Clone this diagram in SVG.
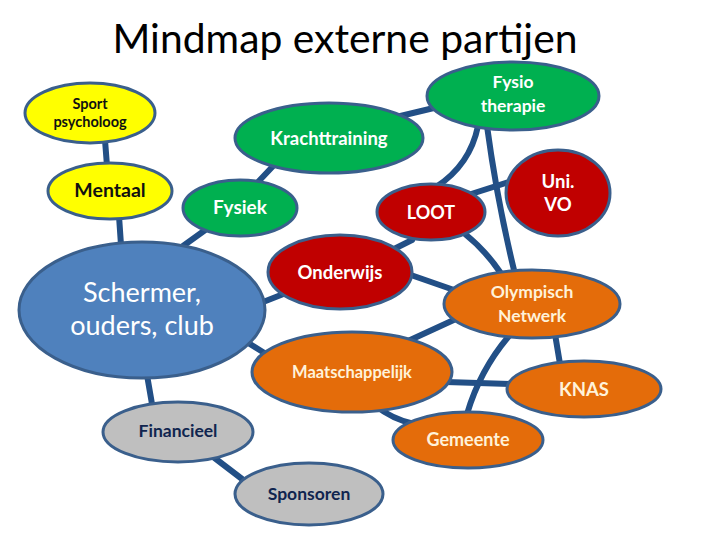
<svg xmlns="http://www.w3.org/2000/svg" width="720" height="540" viewBox="0 0 720 540">
<style>
.e{stroke:#3A5F8C;stroke-width:3}
.c{fill:none;stroke:#224F86;stroke-width:6;stroke-linecap:round}
text{font-family:Lato,"Open Sans","Liberation Sans",sans-serif;font-weight:bold;text-anchor:middle}
.y{fill:#FFFF00}.g{fill:#00B050}.r{fill:#C00000}.o{fill:#E46C0A}.b{fill:#4F81BD}.s{fill:#BFBFBF}
.tk{fill:#111111}.tw{fill:#FFFFFF}.tc{fill:#FFF2D9}.tn{fill:#10254F}
</style>
<rect width="720" height="540" fill="#FFFFFF"/>
<text x="345" y="53" font-size="40" style="font-weight:normal" textLength="465" lengthAdjust="spacingAndGlyphs" fill="#000000">Mindmap externe partijen</text>
<g id="connectors">
<path class="c" d="M105,140 L107,166"/>
<path class="c" d="M119,216 L121,245"/>
<path class="c" d="M258,182 L275,164"/>
<path class="c" d="M183,246 L208,228"/>
<path class="c" d="M392,118 L438,107"/>
<path class="c" d="M478,126 Q470,165 436,187"/>
<path class="c" d="M487,126 Q497,200 514,270"/>
<path class="c" d="M468,195 L512,181"/>
<path class="c" d="M392,250 L412,240"/>
<path class="c" d="M465,234 Q485,250 500,272"/>
<path class="c" d="M408,274 L454,290"/>
<path class="c" d="M258,304 L286,293"/>
<path class="c" d="M245,341 L266,354"/>
<path class="c" d="M408,341 L458,318"/>
<path class="c" d="M509,336 Q480,370 467,414"/>
<path class="c" d="M555,334 L560,364"/>
<path class="c" d="M446,382 L510,384"/>
<path class="c" d="M376,406 Q392,419 414,424"/>
<path class="c" d="M147,375 L152,404"/>
<path class="c" d="M212,456 L246,482"/>
</g>
<g id="sport-psycholoog"><ellipse class="e y" cx="90" cy="113" rx="65" ry="30"/><text class="tk" font-size="14.5" x="90" y="109">Sport</text><text class="tk" font-size="14.5" x="90" y="127">psycholoog</text></g>
<g id="mentaal"><ellipse class="e y" cx="110" cy="191" rx="62" ry="28"/><text class="tk" font-size="19.5" x="110" y="197">Mentaal</text></g>
<g id="krachttraining"><ellipse class="e g" cx="329" cy="138" rx="94" ry="35"/><text class="tw" font-size="18.5" x="329" y="145">Krachttraining</text></g>
<g id="fysiotherapie"><ellipse class="e g" cx="513" cy="96" rx="86" ry="34"/><text class="tw" font-size="17.5" x="513" y="88">Fysio</text><text class="tw" font-size="17.5" x="513" y="112">therapie</text></g>
<g id="fysiek"><ellipse class="e g" cx="240" cy="208" rx="57" ry="28"/><text class="tw" font-size="19" x="240" y="214">Fysiek</text></g>
<g id="uni-vo"><ellipse class="e r" cx="558" cy="193" rx="52" ry="43"/><text class="tw" font-size="18.5" x="558" y="188">Uni.</text><text class="tw" font-size="18.5" x="558" y="211">VO</text></g>
<g id="loot"><ellipse class="e r" cx="431" cy="212" rx="54" ry="28"/><text class="tw" font-size="18" x="431" y="219">LOOT</text></g>
<g id="onderwijs"><ellipse class="e r" cx="340" cy="272" rx="72" ry="37"/><text class="tw" font-size="18.5" x="340" y="279">Onderwijs</text></g>
<g id="schermer"><ellipse class="e b" cx="142" cy="310" rx="123" ry="68"/><text class="tw" font-size="27" style="font-weight:normal" x="142" y="302">Schermer,</text><text class="tw" font-size="27" style="font-weight:normal" x="142" y="335">ouders, club</text></g>
<g id="olympisch-netwerk"><ellipse class="e o" cx="532" cy="304" rx="88" ry="34"/><text class="tc" font-size="17.5" x="532" y="298">Olympisch</text><text class="tc" font-size="17.5" x="532" y="322">Netwerk</text></g>
<g id="maatschappelijk"><ellipse class="e o" cx="352" cy="372" rx="100" ry="40"/><text class="tc" font-size="16.5" x="352" y="378">Maatschappelijk</text></g>
<g id="knas"><ellipse class="e o" cx="584" cy="389" rx="77" ry="28"/><text class="tc" font-size="18.5" x="584" y="396">KNAS</text></g>
<g id="gemeente"><ellipse class="e o" cx="468" cy="440" rx="75" ry="28"/><text class="tc" font-size="18" x="468" y="446">Gemeente</text></g>
<g id="financieel"><ellipse class="e s" cx="178" cy="432" rx="75" ry="30"/><text class="tn" font-size="17.5" x="178" y="437">Financieel</text></g>
<g id="sponsoren"><ellipse class="e s" cx="309" cy="494" rx="74" ry="31"/><text class="tn" font-size="17.5" x="309" y="500">Sponsoren</text></g>
</svg>
